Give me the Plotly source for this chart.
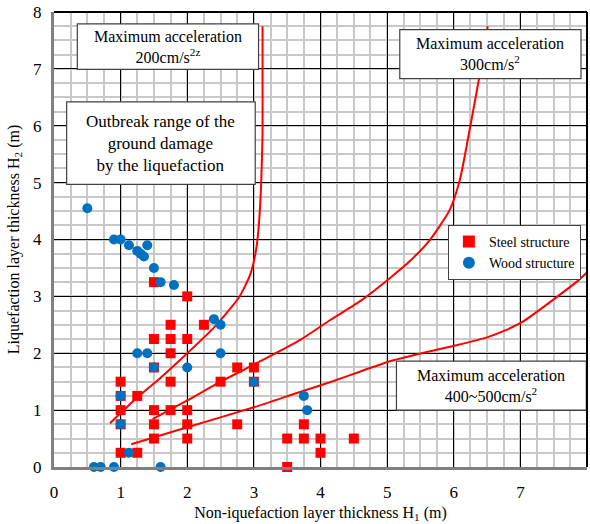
import plotly.graph_objects as go

# Data
steel_x = [1.5, 2.0, 1.75, 2.25, 1.5, 1.75, 2.0, 1.75, 1.5, 2.75, 3.0, 1.0, 1.75, 2.5, 1.25, 1.0, 1.0, 1.5, 1.75, 2.0,
           1.0, 1.5, 2.0, 2.75, 3.75, 1.5, 2.0, 3.5, 3.75, 4.0, 4.5, 1.0, 1.25, 4.0, 3.5, 3.0]
steel_y = [3.25, 3.0, 2.5, 2.5, 2.25, 2.25, 2.25, 2.0, 1.75, 1.75, 1.75, 1.5, 1.5, 1.5, 1.25, 1.25, 1.0, 1.0, 1.0, 1.0,
           0.75, 0.75, 0.75, 0.75, 0.75, 0.5, 0.5, 0.5, 0.5, 0.5, 0.5, 0.25, 0.25, 0.25, 0.0, 1.5]
wood_x = [0.5, 0.9, 1.0, 1.125, 1.25, 1.3, 1.35, 1.4, 1.5, 1.6, 1.8, 2.4, 2.5, 1.25, 1.4, 2.5, 1.5, 2.0, 3.0, 1.0,
          1.0, 1.125, 3.75, 3.8, 0.6, 0.7, 0.9, 1.6]
wood_y = [4.55, 4.0, 4.0, 3.9, 3.8, 3.75, 3.7, 3.9, 3.5, 3.25, 3.2, 2.6, 2.5, 2.0, 2.0, 2.0, 1.75, 1.75, 1.5, 1.25,
          0.75, 0.25, 1.25, 1.0, 0.0, 0.0, 0.0, 0.0]

curve200_x = [0.84, 1.2, 1.6, 2.0, 2.4, 2.78, 2.95, 3.04, 3.08, 3.11, 3.13, 3.13, 3.13]
curve200_y = [0.77, 1.17, 1.57, 2.0, 2.45, 2.99, 3.4, 3.87, 4.34, 5.0, 5.86, 6.8, 7.75]
curve300_x = [1.48, 2.0, 2.5, 3.0, 3.69, 4.14, 4.6, 5.04, 5.35, 5.64, 5.94, 6.09, 6.21, 6.33, 6.42, 6.51]
curve300_y = [0.84, 1.17, 1.5, 1.8, 2.23, 2.58, 2.92, 3.32, 3.63, 3.99, 4.52, 5.04, 5.75, 6.51, 7.1, 7.75]
curve400_x = [1.16, 2.0, 3.0, 3.69, 4.14, 4.6, 5.04, 5.55, 6.04, 6.5, 6.79, 7.03, 7.48, 7.88, 7.99]
curve400_y = [0.40, 0.70, 1.05, 1.32, 1.49, 1.68, 1.86, 2.01, 2.14, 2.28, 2.41, 2.55, 2.93, 3.29, 3.41]

x_ticks = [0, 1, 2, 3, 4, 5, 6, 7, 8]
y_ticks = [0, 1, 2, 3, 4, 5, 6, 7, 8]

FONT = "Liberation Serif, Times New Roman, serif"
RED = "#FF0000"
BLUE = "#0070C0"

fig = go.Figure()

for cx, cy in [(curve200_x, curve200_y), (curve300_x, curve300_y), (curve400_x, curve400_y)]:
    fig.add_trace(go.Scatter(x=cx, y=cy, mode="lines", line=dict(color=RED, width=2, shape="spline", smoothing=0.6),
                             showlegend=False, hoverinfo="skip", cliponaxis=False))

fig.add_trace(go.Scatter(x=steel_x, y=steel_y, mode="markers", name="Steel structure",
                         marker=dict(symbol="square", size=10, color=RED), cliponaxis=False))
fig.add_trace(go.Scatter(x=wood_x, y=wood_y, mode="markers", name="Wood structure",
                         marker=dict(symbol="circle", size=10, color=BLUE), cliponaxis=False))

def box(x0, x1, y0, y1):
    fig.add_shape(type="rect", x0=x0, x1=x1, y0=y0, y1=y1, xref="x", yref="y",
                  line=dict(color="#404040", width=1.2), fillcolor="white", layer="above")

def label(x, y, text, size=16):
    fig.add_annotation(x=x, y=y, xref="x", yref="y", text=text, showarrow=False,
                       font=dict(family=FONT, size=size, color="black"), align="center")

box(0.35, 3.07, 6.99, 7.79)
label(1.71, 7.39, "Maximum acceleration<br>200cm/s<sup>2z</sup>")
box(0.19, 3.02, 4.97, 6.42)
label(1.605, 5.695, "Outbreak range of the<br>ground damage<br>by the liquefaction", size=17)
box(5.19, 7.91, 6.83, 7.69)
label(6.55, 7.26, "Maximum acceleration<br>300cm/s<sup>2</sup>")
box(5.14, 7.99, 1.0, 1.86)
label(6.565, 1.43, "Maximum acceleration<br>400~500cm/s<sup>2</sup>")

# frame top & right
fig.add_shape(type="line", xref="paper", yref="paper", x0=0, x1=1, y0=1, y1=1, line=dict(color="black", width=2))
fig.add_shape(type="line", xref="paper", yref="paper", x0=1, x1=1, y0=0, y1=1, line=dict(color="black", width=2))

grid_minor = dict(dtick=0.25, showgrid=True, gridcolor="#C8C8C8", gridwidth=1.5, ticks="")
fig.update_xaxes(range=[0, 8], tickvals=x_ticks, ticktext=[str(v) for v in x_ticks],
                 showgrid=True, gridcolor="black", gridwidth=1, zeroline=False,
                 showline=True, linecolor="#808080", linewidth=3, ticks="", ticklabelstandoff=8,
                 minor=grid_minor, tickfont=dict(family=FONT, size=17, color="black"),
                 title=dict(text="Non-iquefaction layer thickness H<sub>1</sub> (m)",
                            font=dict(family=FONT, size=16, color="black"), standoff=6))
fig.update_yaxes(range=[0, 8], tickvals=y_ticks, ticktext=[str(v) for v in y_ticks],
                 showgrid=True, gridcolor="black", gridwidth=1, zeroline=False,
                 showline=True, linecolor="#808080", linewidth=3, ticks="", ticklabelstandoff=6,
                 minor=grid_minor, tickfont=dict(family=FONT, size=17, color="black"),
                 title=dict(text="Liquefaction layer thickness H<sub>2</sub> (m)",
                            font=dict(family=FONT, size=16, color="black"), standoff=10))

fig.update_layout(
    width=590, height=524,
    margin=dict(l=54, r=3, t=12, b=57),
    plot_bgcolor="white", paper_bgcolor="white",
    font=dict(family=FONT),
    legend=dict(x=0.739, y=0.532, xanchor="left", yanchor="top",
                bgcolor="white", bordercolor="#404040", borderwidth=1,
                font=dict(family=FONT, size=14, color="black"),
                itemsizing="constant", tracegroupgap=2),
    showlegend=True,
)

fig.write_html("out.html")
